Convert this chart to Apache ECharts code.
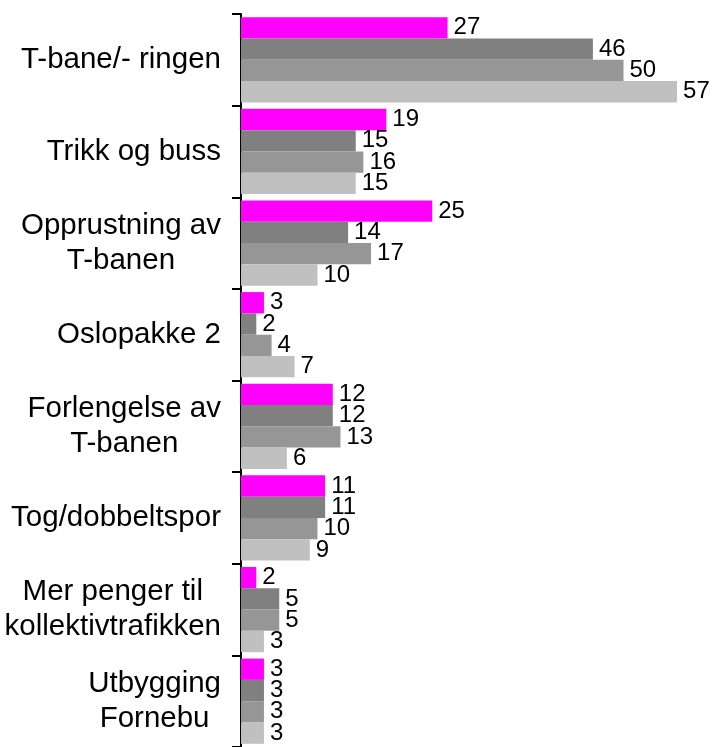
<!DOCTYPE html>
<html>
<head>
<meta charset="utf-8">
<script src="https://cdn.jsdelivr.net/npm/echarts@6/dist/echarts.min.js"></script>
<style>
  html, body { margin: 0; padding: 0; background: #ffffff; }
  #chart { width: 716px; height: 747px; }
</style>
</head>
<body>
<div id="chart"></div>
<script>
// Categories (top to bottom)
const categories = [
  'T-bane/- ringen',
  'Trikk og buss',
  'Opprustning av\nT-banen',
  'Oslopakke 2',
  'Forlengelse av\nT-banen',
  'Tog/dobbeltspor',
  'Mer penger til\nkollektivtrafikken',
  'Utbygging\nFornebu'
];

// Four survey series, one value per category
const series1 = [27, 19, 25, 3, 12, 11, 2, 3];
const series2 = [46, 15, 14, 2, 12, 11, 5, 3];
const series3 = [50, 16, 17, 4, 13, 10, 5, 3];
const series4 = [57, 15, 10, 7, 6, 9, 3, 3];

const seriesColors = ['#FF00FF', '#808080', '#969696', '#C0C0C0'];
const seriesData = [series1, series2, series3, series4];

const FONT = '"Liberation Sans", Arial, sans-serif';

const chart = echarts.init(document.getElementById('chart'), null, { renderer: 'canvas' });

chart.setOption({
  backgroundColor: '#ffffff',
  animation: false,
  grid: { left: 241, top: 14, width: 459, height: 738, containLabel: false },
  xAxis: {
    type: 'value',
    min: 0,
    max: 60,
    show: false
  },
  yAxis: {
    type: 'category',
    data: categories,
    inverse: true,
    axisLine: { show: true, lineStyle: { color: '#000000', width: 2 } },
    axisTick: { show: true, length: 9, lineStyle: { color: '#000000', width: 2 } },
    axisLabel: {
      margin: 20,
      align: 'right',
      fontFamily: FONT,
      fontSize: 29.5,
      color: '#000000',
      lineHeight: 35,
      formatter: function (v) {
        // each line is centred inside the label block
        return v.split('\n').map(function (l) { return '{c|' + l + '}'; }).join('\n');
      },
      rich: {
        c: { align: 'center', fontFamily: FONT, fontSize: 29.5, lineHeight: 35, color: '#000000' }
      }
    }
  },
  series: seriesData.map(function (d, i) {
    return {
      type: 'bar',
      data: d,
      barGap: '0%',
      barCategoryGap: '7%',
      itemStyle: { color: seriesColors[i] },
      label: {
        show: true,
        position: 'right',
        distance: 6,
        fontFamily: FONT,
        fontSize: 24,
        color: '#000000'
      }
    };
  })
});
</script>
</body>
</html>
